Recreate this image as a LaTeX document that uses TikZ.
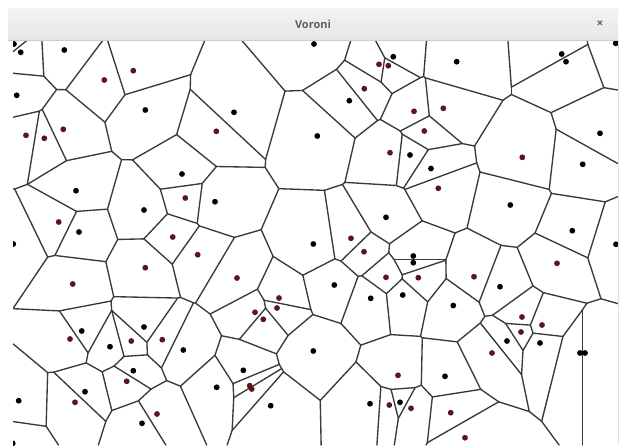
\documentclass[tikz,border=0pt]{standalone}
\usepackage{fontspec}
\newfontfamily\barfont{Open Sans}
\usetikzlibrary{calc}

\definecolor{sitered}{RGB}{95,20,25}
\definecolor{edgegray}{RGB}{58,58,58}
\definecolor{barlight}{RGB}{243,243,243}
\definecolor{bardark}{RGB}{230,230,230}

\newcount\vorN \newcount\vorI \newcount\vorJ \newcount\vorK
\newcount\vordx \newcount\vordy \newcount\vorsx \newcount\vorsy
\newcount\vorDX \newcount\vorDY \newcount\vorA \newcount\vorB
\newcount\vorTlo \newcount\vorThi \newcount\vorFlo \newcount\vorFhi
\newif\ifvorlive

% canvas, in tenths of a pixel
\def\vorXL{130} \def\vorXR{6180} \def\vorYT{400} \def\vorYB{4450}

% sites: x/y/colour, in pixels
\def\sitelist{14/44/black, 20.7/52.3/black, 64.3/50/black, 133.3/70.7/sitered, 104.3/80/sitered,
16.7/95.3/black, 145.3/110/black, 63.3/129.3/sitered, 26/135.3/sitered, 44.3/138.3/sitered,
314/44/black, 234/112.3/black, 216.3/131.3/sitered, 182/174/black,
393.3/56.7/black, 379/64.3/sitered, 388.3/65.7/sitered, 456.7/61.7/black,
364.3/88.7/sitered, 349.3/100.7/black, 414/111.3/sitered, 443.3/108.3/sitered,
424.3/131/sitered, 317.3/136/black, 390/152.7/sitered, 410/155/black, 431/168.5/black,
561.7/54/black, 566/61.7/black, 615.7/43.3/black, 600/133.3/black, 582.7/164.3/black, 522.3/157.3/sitered,
76/190.7/black, 144/210/black, 58.7/222/sitered, 79/232/black, 13.3/244/black, 145.3/267.7/sitered, 72.7/284/sitered,
185.3/198/sitered, 215/201.7/black, 172.7/237/sitered, 197.7/254.7/sitered, 313.3/244/black, 237/278/sitered,
279/298/sitered, 277/308/sitered,
438.3/188.3/sitered, 386/217.3/black, 351/238.3/sitered, 364/251.7/sitered, 413.3/256/black, 413.3/262.7/black,
386/277.3/sitered, 418.3/277.7/sitered, 334.3/285/black, 370.7/298.3/black, 402.7/295/black, 453.3/305.5/black,
510.3/205/black, 572.3/230.7/black, 616/244.3/black, 557/263.3/sitered, 474/276.7/sitered, 500/286.7/black,
81.7/331/black, 70/339/sitered, 144/327/black, 131.3/341/sitered, 110/346.7/black, 133.3/370.7/black, 126.7/381.3/sitered,
85/391.7/black, 75/402.3/sitered, 18.7/400.7/black, 157/414/sitered, 142/423.3/black, 12.7/443.3/black,
255/312.3/sitered, 263.3/319.3/sitered, 162.3/339.7/sitered, 183.3/350/black, 313.3/351/black, 243.3/370.3/black,
249.7/385.7/sitered, 251.7/389/sitered, 216.7/387.3/black, 270.7/405.7/black,
398/375.3/sitered, 445/376.3/black, 370/403.7/black, 389.3/405/sitered, 400/402.3/black, 411/408.3/sitered,
450.7/412.7/sitered, 465/437.7/sitered,
522/317/sitered, 542/325/sitered, 521/332/sitered, 507/341/black, 540/343/black, 580/353/black, 585/353/black, 492/353/sitered}

% clip the bisector of sites i and j against the box
\newcommand\vorbox[2]{%
  \vorA=\numexpr#1\relax \vorB=\numexpr#2\relax
  \ifnum\vorA>0
    \ifnum\numexpr\vorB*1024/\vorA\relax<\vorThi\relax \vorThi=\numexpr\vorB*1024/\vorA\relax\fi
  \else\ifnum\vorA<0
    \ifnum\numexpr\vorB*1024/\vorA\relax>\vorTlo\relax \vorTlo=\numexpr\vorB*1024/\vorA\relax\fi
  \else\ifnum\vorB<0 \vorlivefalse\fi
  \fi\fi}

% ... and against site k
\def\vorclip{%
  \ifnum\vorK=\vorI\relax\else\ifnum\vorK=\vorJ\relax\else
    \vorDX=\numexpr\csname vx\the\vorK\endcsname-\vorxi\relax
    \vorDY=\numexpr\csname vy\the\vorK\endcsname-\voryi\relax
    \vorA=\numexpr2*(\vordx*\vorDX+\vordy*\vorDY)\relax
    \vorB=\numexpr\csname vq\the\vorK\endcsname-\vorqi-\vorsx*\vorDX-\vorsy*\vorDY\relax
    \vorFlo=\numexpr\vorA*\vorTlo/1024-\vorB\relax
    \vorFhi=\numexpr\vorA*\vorThi/1024-\vorB\relax
    \ifnum\vorFlo>0
      \ifnum\vorFhi>0 \vorlivefalse\vorK=\vorN\relax
      \else \vorTlo=\numexpr\vorB*1024/\vorA\relax\fi
    \else
      \ifnum\vorFhi>0 \vorThi=\numexpr\vorB*1024/\vorA\relax\fi
    \fi
  \fi\fi}

\def\vorsites{%
  \ifnum\vorK>\vorN\relax\else
    \vorclip
    \advance\vorK by 1
    \expandafter\vorsites
  \fi}

\def\vordraw{%
  \edef\vorax{\the\dimexpr\numexpr\vorsx+\vorTlo*\vordx/512\relax pt/20\relax}%
  \edef\voray{\the\dimexpr\numexpr\vorsy+\vorTlo*\vordy/512\relax pt/20\relax}%
  \edef\vorbx{\the\dimexpr\numexpr\vorsx+\vorThi*\vordx/512\relax pt/20\relax}%
  \edef\vorby{\the\dimexpr\numexpr\vorsy+\vorThi*\vordy/512\relax pt/20\relax}%
  \draw[cell edge] (\vorax,\voray) -- (\vorbx,\vorby);}

\newcommand\vorpair[2]{%
  \vorI=#1\relax \vorJ=#2\relax
  \edef\vorxi{\csname vx\the\vorI\endcsname}%
  \edef\voryi{\csname vy\the\vorI\endcsname}%
  \edef\vorqi{\csname vq\the\vorI\endcsname}%
  \vorDX=\numexpr\csname vx\the\vorJ\endcsname-\vorxi\relax
  \vorDY=\numexpr\csname vy\the\vorJ\endcsname-\voryi\relax
  \ifnum\numexpr\vorDX*\vorDX+\vorDY*\vorDY\relax<4000000
    \vordx=-\vorDY \vordy=\vorDX
    \vorsx=\numexpr\vorxi+\csname vx\the\vorJ\endcsname\relax
    \vorsy=\numexpr\voryi+\csname vy\the\vorJ\endcsname\relax
    \vorTlo=-1000000000 \vorThi=1000000000 \vorlivetrue
    \vorbox{-2*\vordx}{\vorsx-2*\vorXL}%
    \vorbox{2*\vordx}{2*\vorXR-\vorsx}%
    \vorbox{-2*\vordy}{\vorsy-2*\vorYT}%
    \vorbox{2*\vordy}{2*\vorYB-\vorsy}%
    \ifvorlive \vorK=1 \vorsites \fi
    \ifvorlive\ifnum\vorThi>\vorTlo \vordraw\fi\fi
  \fi}

\begin{document}
\begin{tikzpicture}[yscale=-1, x=1pt, y=1pt,
    cell edge/.style={draw=edgegray, line width=1.35pt, line cap=round}]
\useasboundingbox (0,0) rectangle (626,445);
\fill[white] (0,0) rectangle (626,445);

% read the sites, in tenths of a pixel
\foreach \x/\y/\c in \sitelist {
  \global\advance\vorN by 1
  \expandafter\xdef\csname vx\the\vorN\endcsname{\the\numexpr\dimexpr\x pt*10\relax/65536\relax}
  \expandafter\xdef\csname vy\the\vorN\endcsname{\the\numexpr\dimexpr\y pt*10\relax/65536\relax}
  \expandafter\xdef\csname vq\the\vorN\endcsname{\the\numexpr
    \csname vx\the\vorN\endcsname*\csname vx\the\vorN\endcsname
    +\csname vy\the\vorN\endcsname*\csname vy\the\vorN\endcsname\relax}
}
\xdef\vorn{\the\vorN}

\begin{scope}
  \clip (13,40) rectangle (618,445);
  % voronoi edges
  \foreach \i in {1,...,\vorn} {
    \foreach \j in {1,...,\vorn} {
      \ifnum\j>\i\relax \vorpair{\i}{\j}\fi
    }
  }
  % sites
  \foreach \x/\y/\c in \sitelist
    \fill[\c] (\x,\y) circle (2.9);
\end{scope}

% window frame
\draw[gray!25] (618,40) -- (618,445);
\shade[top color=barlight, bottom color=bardark] (8,8) rectangle (618,40);
\draw[gray!40] (8,40) -- (618,40);
\node[text=gray!75!black, font=\barfont\bfseries\fontsize{11}{13}\selectfont] (title) at (313,24) {Voroni};
\node[text=gray!75!black, font=\barfont\bfseries\fontsize{12}{13}\selectfont] (close) at (600,24) {×};
\end{tikzpicture}
\end{document}
